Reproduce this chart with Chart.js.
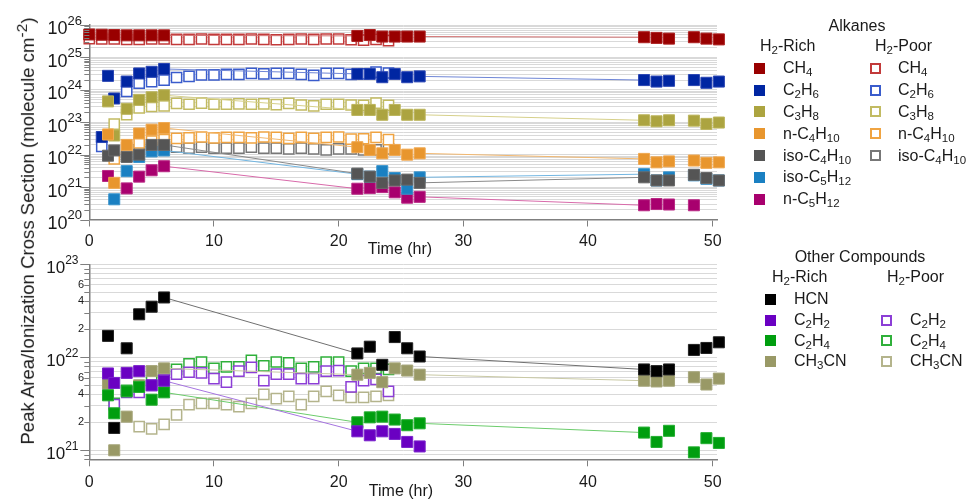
<!DOCTYPE html>
<html>
<head>
<meta charset="utf-8">
<script src="https://cdn.jsdelivr.net/npm/chart.js@4.4.1/dist/chart.umd.min.js"></script>
<style>
  html, body { margin: 0; padding: 0; background: #fff; }
  body { width: 971px; height: 499px; position: relative; overflow: hidden;
         font-family: "Liberation Sans", Arial, sans-serif; color: #1a1a1a; }
  canvas { position: absolute; left: 0; top: 0; }
  .lbl { position: absolute; white-space: nowrap; font-size: 16px; line-height: 20px; height: 20px; }
  .lbl sub { font-size: 0.72em; vertical-align: -0.3em; line-height: 0; }
  .lbl sup { font-size: 0.68em; vertical-align: 0.55em; line-height: 0; }
  .sq { position: absolute; width: 11px; height: 11px; box-sizing: border-box; }
  .ytitle { position: absolute; width: 500px; left: -225px; top: 218px; text-align: center;
            font-size: 18.6px; line-height: 20px; transform: rotate(-90deg); white-space: nowrap; }
</style>
</head>
<body>
<canvas id="topChart" width="971" height="499"></canvas>
<canvas id="bottomChart" width="971" height="499"></canvas>
<script>
// ---- data ----
const richTime = [0, 1, 1.5, 2, 3, 4, 5, 6, 21.5, 22.5, 23.5, 24.5, 25.5, 26.5, 44.5, 45.5, 46.5, 48.5, 49.5, 50.5];
const poorTime = [0, 1, 2, 3, 4, 5, 6, 7, 8, 9, 10, 11, 12, 13, 14, 15, 16, 17, 18, 19, 20, 21, 22, 23, 24];

// Alkanes, H2-Rich
const ch4Rich   = [5.1e25, 5.0e25, null, 4.9e25, 4.8e25, 4.8e25, 4.8e25, 4.8e25, 4.6e25, 4.9e25, 4.4e25, 4.4e25, 4.4e25, 4.4e25, 4.2e25, 4.0e25, 3.8e25, 4.2e25, 3.8e25, 3.6e25];
const c2h6Rich  = [null, 3.5e22, 2.7e24, 5.4e23, 1.8e24, 3.2e24, 3.6e24, 4.4e24, 3.1e24, 3.1e24, 2.45e24, 3.1e24, 2.45e24, 2.6e24, 2.0e24, 1.8e24, 1.9e24, 2.0e24, 1.65e24, 1.8e24];
const c3h8Rich  = [null, null, 4.4e23, 3.9e22, 2.6e23, 4.9e23, 5.9e23, 6.8e23, 2.4e23, 2.4e23, 1.7e23, 2.4e23, 1.7e23, 1.7e23, 1.15e23, 1.07e23, 1.15e23, 1.12e23, 8.9e22, 9.8e22];
const nC4Rich   = [null, null, 4.2e22, 1.35e21, 2.0e22, 4.5e22, 5.9e22, 6.6e22, 1.7e22, 1.4e22, 1.1e22, 1.4e22, 1.0e22, 1.1e22, 7.4e21, 5.8e21, 6.2e21, 6.6e21, 5.6e21, 5.8e21];
const isoC4Rich = [null, null, 9.3e21, 1.35e22, 8.5e21, 1.0e22, 2.0e22, 2.0e22, 2.6e21, 2.1e21, 1.35e21, 1.6e21, 1.7e21, 1.35e21, 2.0e21, 1.6e21, 1.6e21, 2.4e21, 1.9e21, 1.6e21];
const isoC5Rich = [null, null, null, 4.2e20, 3.1e21, 8.5e21, 1.26e22, 1.35e22, 2.5e21, 2.1e21, 3.1e21, 1.9e21, 8.9e20, 2.0e21, 2.5e21, 1.6e21, 2.0e21, 2.3e21, 1.8e21, 1.6e21];
const nC5Rich   = [null, null, 2.2e21, null, 9.1e20, 2.1e21, 3.3e21, 4.4e21, 8.9e20, 9.3e20, 1.0e21, 6.9e20, 4.7e20, 5.0e20, 2.75e20, 3.0e20, 2.9e20, 2.75e20, null, null];

// Alkanes, H2-Poor
const ch4Poor   = [3.8e25, 3.7e25, 3.7e25, 3.6e25, 3.6e25, 3.7e25, 3.7e25, 3.6e25, 3.6e25, 3.7e25, 3.6e25, 3.6e25, 3.6e25, 3.7e25, 3.6e25, 3.5e25, 3.6e25, 3.7e25, 3.6e25, 3.7e25, 3.7e25, 3.5e25, 3.4e25, 3.6e25, 3.3e25];
const c2h6Poor  = [null, 1.8e22, null, 8.9e23, 1.6e24, 1.8e24, 2.0e24, 2.4e24, 2.6e24, 2.9e24, 2.9e24, 3.0e24, 3.0e24, 3.2e24, 3.1e24, 3.2e24, 3.2e24, 3.0e24, 2.8e24, 3.2e24, 3.2e24, 3.0e24, 3.1e24, 3.5e24, 3.3e24];
const c3h8Poor  = [null, null, 8.8e22, 1.7e23, 2.75e23, 3.1e23, 3.2e23, 3.8e23, 3.6e23, 3.9e23, 3.6e23, 3.6e23, 3.7e23, 3.6e23, 3.7e23, 3.5e23, 3.8e23, 3.4e23, 3.2e23, 3.6e23, 3.6e23, 3.4e23, 3.3e23, 3.9e23, 3.3e23];
const nC4Poor   = [null, null, 7.4e21, 1.6e22, 2.3e22, 2.6e22, 2.9e22, 3.2e22, 3.3e22, 3.5e22, 3.3e22, 3.4e22, 3.4e22, 3.3e22, 3.5e22, 3.4e22, 3.2e22, 3.4e22, 3.2e22, 3.4e22, 3.5e22, 3.0e22, 3.1e22, 3.4e22, 2.9e22];
const isoC4Poor = [null, null, null, 9.0e21, 1.4e22, 1.6e22, 1.7e22, 1.7e22, 1.6e22, 1.7e22, 1.6e22, 1.6e22, 1.6e22, 1.7e22, 1.6e22, 1.6e22, 1.5e22, 1.6e22, 1.5e22, 1.4e22, 1.5e22, 1.5e22, 1.4e22, 1.4e22, 1.5e22];

// Other compounds, H2-Rich
const hcnRich   = [null, null, 1.7e22, 1.74e21, 1.25e22, 2.9e22, 3.5e22, 4.4e22, 1.1e22, 1.3e22, 8.3e21, 1.65e22, 1.25e22, 1.02e22, 7.4e21, 7.1e21, 7.4e21, 1.2e22, 1.26e22, 1.45e22];
const c2h2Rich  = [null, null, 6.7e21, 5.3e21, 6.8e21, 7.1e21, 5.0e21, 5.6e21, 1.6e21, 1.45e21, 1.6e21, 1.5e21, 1.23e21, 1.1e21, null, null, null, null, null, null];
const c2h4Rich  = [null, null, 3.9e21, 2.5e21, 4.3e21, 4.8e21, 3.5e21, 4.2e21, 2.0e21, 2.26e21, 2.3e21, 2.14e21, 1.86e21, 1.95e21, 1.55e21, 1.23e21, 1.62e21, 9.5e20, 1.35e21, 1.2e21];
const ch3cnRich = [null, null, 5.2e21, 1.0e21, 2.3e21, 5.0e21, 7.1e21, 7.6e21, 6.5e21, 6.8e21, 5.4e21, 7.6e21, 7.2e21, 6.5e21, 5.6e21, 5.5e21, 5.6e21, 6.1e21, 5.1e21, 5.9e21];

// Other compounds, H2-Poor
const c2h2Poor  = [null, null, 3.1e21, 4.2e21, 4.2e21, 5.0e21, 5.8e21, 6.6e21, 6.9e21, 6.8e21, 5.9e21, 5.4e21, 7.1e21, 7.8e21, 5.6e21, 6.6e21, 6.6e21, 5.9e21, 5.9e21, 7.1e21, 7.2e21, 4.8e21, 5.6e21, 5.8e21, 4.3e21];
const c2h4Poor  = [null, null, 3.2e21, 4.4e21, 4.8e21, 5.6e21, 6.3e21, 7.4e21, 8.5e21, 8.9e21, 7.6e21, 7.9e21, 7.9e21, 9.3e21, 8.1e21, 8.9e21, 8.7e21, 7.6e21, 7.9e21, 8.9e21, 8.9e21, 7.1e21, 7.6e21, 7.6e21, 7.4e21];
const ch3cnPoor = [null, null, null, null, 1.8e21, 1.7e21, 1.9e21, 2.4e21, 3.1e21, 3.2e21, 3.2e21, 3.1e21, 2.95e21, 3.2e21, 4.0e21, 3.6e21, 3.8e21, 3.1e21, 3.8e21, 4.3e21, 3.9e21, 3.7e21, 3.7e21, 3.8e21, 3.9e21];

// axis ticks / labels
const timeTicks = [0, 10, 20, 30, 40, 50];
const topDecades = [20, 21, 22, 23, 24, 25, 26];
const bottomDecades = [21, 22, 23];
const bottomMinorLabels = [2, 4, 6];

const FONT = '"Liberation Sans", Arial, sans-serif';
const AXIS_GRAY = '#7f7f7f';

function pts(times, vals) {
  return vals.map((v, i) => ({ x: times[i], y: v })).filter(p => p.y !== null);
}

// lines only bridge the long gaps between measurement blocks
function bridge(color) {
  return c => (c.p1.parsed.x - c.p0.parsed.x > 5 ? color : 'rgba(0,0,0,0)');
}

function richSet(label, vals, color, lineColor, edge, order) {
  return {
    label, data: pts(richTime, vals), showLine: true, clip: false,
    borderColor: lineColor, borderWidth: 1,
    segment: { borderColor: bridge(lineColor) },
    pointStyle: 'rect', pointRadius: 7.8, pointHoverRadius: 7.8,
    pointBackgroundColor: color, pointBorderColor: edge, pointBorderWidth: 1,
    order
  };
}

function poorSet(label, vals, color, order) {
  return {
    label, data: pts(poorTime, vals), showLine: false, clip: false,
    pointStyle: 'rect', pointRadius: 7.2, pointHoverRadius: 7.2,
    pointBackgroundColor: '#ffffff', pointBorderColor: color, pointBorderWidth: 1.5,
    order
  };
}

function logTicks(min, max) {
  const out = [];
  const e0 = Math.floor(Math.log10(min) + 1e-9);
  const e1 = Math.round(Math.log10(max));
  for (let e = e0; e < e1; e++) {
    for (let m = 1; m < 10; m++) {
      const v = m * Math.pow(10, e);
      if (v >= min * 0.999) out.push(v);
    }
  }
  out.push(Math.pow(10, e1));
  return out;
}

// y axis tick marks + superscript labels
const yDecor = {
  id: 'yDecor',
  afterDraw(chart, args, opts) {
    const y = chart.scales.y;
    const ctx = chart.ctx;
    const x0 = chart.chartArea.left;
    ctx.save();
    ctx.strokeStyle = AXIS_GRAY;
    ctx.lineWidth = 1;
    y.ticks.forEach(t => {
      const py = Math.round(y.getPixelForValue(t.value)) + 0.5;
      const m = t.value / Math.pow(10, Math.floor(Math.log10(t.value) + 1e-9));
      const major = Math.abs(m - 1) < 1e-6;
      ctx.beginPath();
      ctx.moveTo(x0 - (major ? 9 : 5), py);
      ctx.lineTo(x0, py);
      ctx.stroke();
    });
    ctx.fillStyle = '#1a1a1a';
    ctx.textBaseline = 'middle';
    ctx.textAlign = 'right';
    opts.decades.forEach(e => {
      const py = y.getPixelForValue(Math.pow(10, e));
      ctx.font = opts.expSize + 'px ' + FONT;
      const ew = ctx.measureText(String(e)).width;
      ctx.fillText(String(e), opts.right, py - 4);
      ctx.font = opts.baseSize + 'px ' + FONT;
      ctx.fillText('10', opts.right - ew, py + 4.5);
    });
    ctx.font = '11px ' + FONT;
    (opts.minorDecades || []).forEach(e => {
      opts.minor.forEach(m => {
        const py = y.getPixelForValue(m * Math.pow(10, e));
        ctx.fillText(String(m), 84, py);
      });
    });
    ctx.restore();
  }
};

function xScale(pad) {
  return {
    type: 'linear', min: 0, max: 50.35,
    afterBuildTicks: s => { s.ticks = timeTicks.map(v => ({ value: v })); },
    afterFit: s => { s.height = 30; },
    ticks: { font: { family: FONT, size: 16 }, color: '#1a1a1a', padding: pad, maxRotation: 0 },
    grid: { drawOnChartArea: false, drawTicks: true, tickLength: 7, tickColor: AXIS_GRAY },
    border: { color: AXIS_GRAY, width: 1.5 }
  };
}

function yScale(min, max) {
  return {
    type: 'logarithmic', min, max,
    afterBuildTicks: s => { s.ticks = logTicks(min, max).map(v => ({ value: v })); },
    afterFit: s => { s.width = 89.3; },
    ticks: { display: false },
    grid: { color: '#d9d9d9', lineWidth: 1, drawTicks: false },
    border: { color: AXIS_GRAY, width: 1.5 }
  };
}

const common = {
  responsive: false,
  animation: false,
  events: [],
  plugins: { legend: { display: false }, tooltip: { enabled: false } }
};

// ---- top panel: alkanes ----
new Chart(document.getElementById('topChart'), {
  type: 'scatter',
  data: {
    datasets: [
      richSet('iso-C4H10', isoC4Rich, '#555555', '#8a8a8a', '#6a6a6a', 0),
      richSet('n-C4H10', nC4Rich, '#e8962e', '#f2b870', '#f0a850', 1),
      richSet('C3H8', c3h8Rich, '#aca440', '#d6d08a', '#bcb55c', 2),
      richSet('C2H6', c2h6Rich, '#0026a2', '#6f86d6', '#2a46b4', 3),
      richSet('CH4', ch4Rich, '#990000', '#d27070', '#ad2020', 4),
      richSet('iso-C5H12', isoC5Rich, '#1a80c2', '#72b6e2', '#3b94cc', 5),
      richSet('n-C5H12', nC5Rich, '#a8006e', '#d86aaa', '#ba2a86', 6),
      poorSet('CH4 poor', ch4Poor, '#c23a3a', 10),
      poorSet('C2H6 poor', c2h6Poor, '#3a5ccc', 11),
      poorSet('C3H8 poor', c3h8Poor, '#c2bb62', 12),
      poorSet('n-C4H10 poor', nC4Poor, '#f0a442', 13),
      poorSet('iso-C4H10 poor', isoC4Poor, '#777777', 14)
    ]
  },
  options: Object.assign({}, common, {
    layout: { padding: { left: 0, top: 25, right: 971 - 717, bottom: 499 - 219.5 - 30 } },
    scales: { x: xScale(5), y: yScale(1e20, 1e26) },
    plugins: Object.assign({}, common.plugins, {
      yDecor: { decades: topDecades, right: 82, baseSize: 18, expSize: 13 }
    })
  }),
  plugins: [yDecor]
});

// ---- bottom panel: other compounds ----
new Chart(document.getElementById('bottomChart'), {
  type: 'scatter',
  data: {
    datasets: [
      richSet('HCN', hcnRich, '#000000', '#707070', '#222222', 0),
      richSet('C2H2', c2h2Rich, '#6a00c2', '#a674e0', '#7a22cc', 1),
      richSet('C2H4', c2h4Rich, '#009e0f', '#6ccc6c', '#22ae30', 2),
      richSet('CH3CN', ch3cnRich, '#999966', '#c9c9a4', '#a6a67a', 3),
      poorSet('C2H2 poor', c2h2Poor, '#8c3ed6', 10),
      poorSet('C2H4 poor', c2h4Poor, '#2fb03a', 11),
      poorSet('CH3CN poor', ch3cnPoor, '#b4b48c', 12)
    ]
  },
  options: Object.assign({}, common, {
    layout: { padding: { left: 0, top: 264.3, right: 971 - 717, bottom: 499 - 459.3 - 30 } },
    scales: { x: xScale(7), y: yScale(8e20, 1e23) },
    plugins: Object.assign({}, common.plugins, {
      yDecor: { decades: bottomDecades, right: 78.5, baseSize: 17, expSize: 12,
                minorDecades: [21, 22], minor: bottomMinorLabels }
    })
  }),
  plugins: [yDecor]
});

// ---- legends and titles (HTML overlay) ----
const alkRich = ['CH<sub>4</sub>', 'C<sub>2</sub>H<sub>6</sub>', 'C<sub>3</sub>H<sub>8</sub>', 'n-C<sub>4</sub>H<sub>10</sub>',
                 'iso-C<sub>4</sub>H<sub>10</sub>', 'iso-C<sub>5</sub>H<sub>12</sub>', 'n-C<sub>5</sub>H<sub>12</sub>'];
const alkRichColors = ['#990000', '#0026a2', '#aca440', '#e8962e', '#555555', '#1a80c2', '#a8006e'];
const alkPoor = alkRich.slice(0, 5);
const alkPoorColors = ['#c23a3a', '#3a5ccc', '#c2bb62', '#f0a442', '#777777'];
const othRich = ['HCN', 'C<sub>2</sub>H<sub>2</sub>', 'C<sub>2</sub>H<sub>4</sub>', 'CH<sub>3</sub>CN'];
const othRichColors = ['#000000', '#6a00c2', '#009e0f', '#999966'];
const othPoor = ['C<sub>2</sub>H<sub>2</sub>', 'C<sub>2</sub>H<sub>4</sub>', 'CH<sub>3</sub>CN'];
const othPoorColors = ['#8c3ed6', '#2fb03a', '#b4b48c'];

function addText(html, left, cy, extra) {
  const d = document.createElement('div');
  d.className = 'lbl';
  d.innerHTML = html;
  d.style.left = left + 'px';
  d.style.top = (cy - 10) + 'px';
  if (extra) Object.assign(d.style, extra);
  document.body.appendChild(d);
  return d;
}

function addSquare(cx, cy, color, open) {
  const s = document.createElement('div');
  s.className = 'sq';
  s.style.left = Math.round(cx - 5.5) + 'px';
  s.style.top = Math.round(cy - 5.5) + 'px';
  if (open) { s.style.border = '2px solid ' + color; s.style.background = '#fff'; }
  else s.style.background = color;
  document.body.appendChild(s);
}

function legendColumn(names, colors, open, sqX, textX, y0, dy) {
  names.forEach((n, i) => {
    const cy = y0 + i * dy;
    addSquare(sqX, cy, colors[i], open);
    addText(n, textX, cy);
  });
}

addText('Alkanes', 857, 26, { transform: 'translateX(-50%)' });
addText('H<sub>2</sub>-Rich', 760, 46);
addText('H<sub>2</sub>-Poor', 875, 46);
legendColumn(alkRich, alkRichColors, false, 759, 783, 68.3, 21.8);
legendColumn(alkPoor, alkPoorColors, true, 875, 898, 68.3, 21.8);

addText('Other Compounds', 860, 257, { transform: 'translateX(-50%)' });
addText('H<sub>2</sub>-Rich', 772, 277);
addText('H<sub>2</sub>-Poor', 887, 277);
legendColumn(othRich, othRichColors, false, 770, 794, 299.3, 20.7);
legendColumn(othPoor, othPoorColors, true, 886, 910, 320, 20.7);

addText('Time (hr)', 400, 249, { transform: 'translateX(-50%)' });
addText('Time (hr)', 401, 491, { transform: 'translateX(-50%)' });

const yt = document.createElement('div');
yt.className = 'ytitle';
yt.innerHTML = 'Peak Area/Ionization Cross Section (molecule cm<sup>-2</sup>)';
document.body.appendChild(yt);
</script>
</body>
</html>
